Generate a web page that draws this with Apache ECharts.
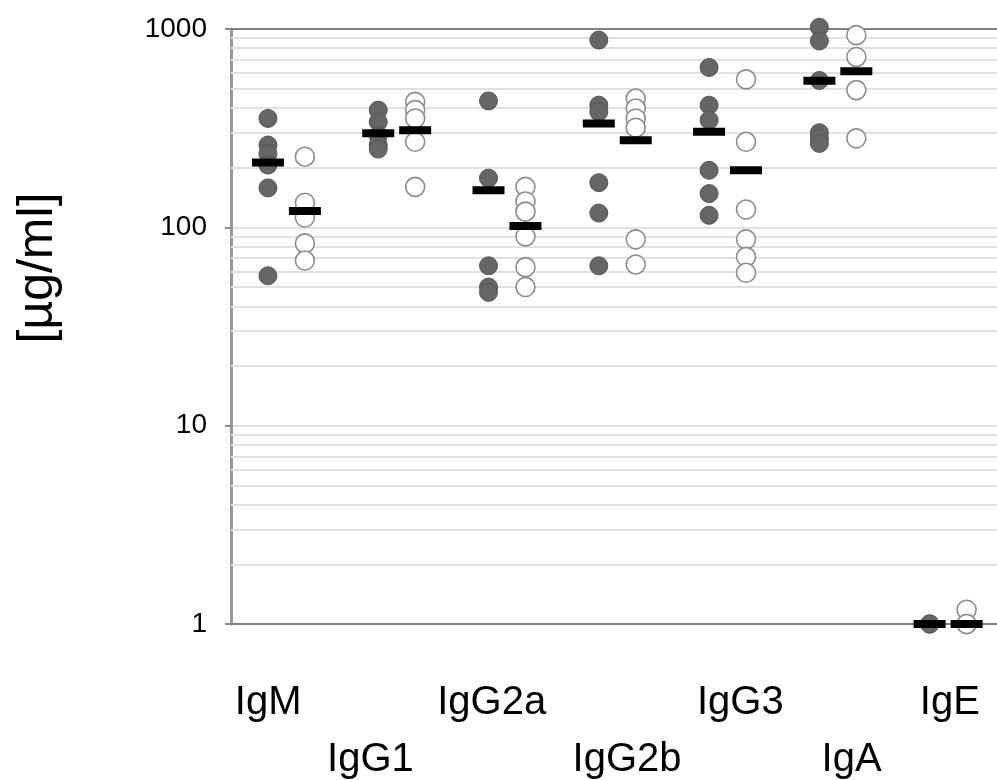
<!DOCTYPE html>
<html>
<head>
<meta charset="utf-8">
<title>Serum immunoglobulin levels</title>
<script src="https://cdn.jsdelivr.net/npm/echarts@6/dist/echarts.min.js"></script>
<style>
  html, body { margin: 0; padding: 0; background: #ffffff; }
  #chart { width: 997px; height: 780px; }
</style>
</head>
<body>
<div id="chart"></div>
<script>
// Immunoglobulin classes along the x axis
const categories = ['IgM', 'IgG1', 'IgG2a', 'IgG2b', 'IgG3', 'IgA', 'IgE'];

// Individual concentrations [µg/ml], first group (filled markers)
const filledValues = [
  [354, 260, 235, 206, 158, 57],
  [390, 340, 290, 260, 248],
  [434, 177, 64, 50, 47],
  [879, 413, 382, 168, 118, 64],
  [640, 413, 347, 194, 148, 115],
  [1020, 870, 550, 300, 280, 265],
  [1, 1, 1]
];

// Individual concentrations [µg/ml], second group (open markers)
const openValues = [
  [227, 133, 112, 83, 68],
  [429, 390, 354, 270, 160],
  [160, 135, 120, 90, 63, 50],
  [446, 397, 354, 318, 87, 65],
  [557, 270, 123, 87, 71, 59],
  [931, 723, 492, 281],
  [1.18, 1, 1]
];

// Group means [µg/ml], shown as black bars
const filledMeans = [212, 298, 154, 334, 303, 548, 1];
const openMeans = [121, 309, 101.5, 275, 194, 612, 1];

// Log axis range and the light minor grid lines inside each decade
const yMin = 1;
const yMax = 1000;
const minorGridValues = [2, 3, 4, 5, 6, 7, 8, 9,
                         20, 30, 40, 50, 60, 70, 80, 90,
                         200, 300, 400, 500, 600, 700, 800, 900];

// ---- layout ----
const FONT = "'Liberation Sans', Arial, sans-serif";
const FILLED_OFFSET = 0.335;   // position of filled column inside a class slot
const OPEN_OFFSET = 0.67;      // position of open column inside a class slot
// horizontal nudges of the class names (px), they sit slightly off the slot centres
const labelNudge = [-18, -26, -15, 10, 13, 14, 2];

function points(groups, offset) {
  const out = [];
  groups.forEach(function (vals, i) {
    vals.forEach(function (v) { out.push([i + offset, v]); });
  });
  return out;
}
function meanPoints(means, offset) {
  return means.map(function (v, i) { return [i + offset, v]; });
}

const rich = {};
categories.forEach(function (c, i) {
  const n = labelNudge[i];
  rich['c' + i] = {
    fontFamily: FONT, fontSize: 40, color: '#000', lineHeight: 57,
    padding: n >= 0 ? [0, 0, 0, 2 * n] : [0, -2 * n, 0, 0]
  };
});

const chart = echarts.init(document.getElementById('chart'), null, { renderer: 'canvas' });

chart.setOption({
  animation: false,
  backgroundColor: '#ffffff',
  grid: {
    left: 231, top: 29, width: 772, height: 595,
    containLabel: false,
    outerBoundsMode: 'none'
  },
  xAxis: [
    {
      type: 'category',
      position: 'bottom',
      data: categories,
      boundaryGap: true,
      axisLine: { show: true, lineStyle: { color: '#808080', width: 2 } },
      axisTick: { show: false },
      splitLine: { show: false },
      axisLabel: {
        interval: 0,
        margin: 50,
        lineHeight: 57,
        fontFamily: FONT,
        fontSize: 40,
        color: '#000',
        formatter: function (name, i) {
          return (i % 2 ? '\n' : '') + '{c' + i + '|' + name + '}';
        },
        rich: rich
      }
    },
    {
      type: 'value',
      position: 'top',
      min: 0,
      max: categories.length,
      axisLine: { show: true, onZero: false, lineStyle: { color: '#808080', width: 2 } },
      axisTick: { show: false },
      axisLabel: { show: false },
      splitLine: { show: false }
    }
  ],
  yAxis: {
    type: 'log',
    logBase: 10,
    min: yMin,
    max: yMax,
    axisLine: { show: true, lineStyle: { color: '#979797', width: 3 } },
    axisTick: { show: true, length: 6, lineStyle: { color: '#8a8a8a', width: 2 } },
    axisLabel: {
      margin: 24,
      fontFamily: FONT,
      fontSize: 28,
      color: '#000',
      formatter: function (v) { return String(Math.round(v)); }
    },
    splitLine: { show: true, lineStyle: { color: '#e1e1e1', width: 2 } },
    minorTick: { show: false },
    minorSplitLine: { show: false }
  },
  graphic: [
    {
      type: 'text',
      x: 38,
      y: 268,
      rotation: Math.PI / 2,
      style: {
        text: '[µg/ml]',
        fontFamily: FONT,
        fontSize: 50,
        fill: '#000',
        textAlign: 'center',
        textVerticalAlign: 'middle'
      }
    }
  ],
  series: [
    {
      name: 'grid',
      type: 'scatter',
      xAxisIndex: 1,
      data: [],
      z: 1,
      silent: true,
      markLine: {
        z: 1,
        silent: true,
        symbol: 'none',
        label: { show: false },
        lineStyle: { color: '#e1e1e1', width: 2, type: 'solid' },
        emphasis: { disabled: true },
        data: minorGridValues.map(function (v) { return { yAxis: v }; })
      }
    },
    {
      name: 'filled',
      type: 'scatter',
      xAxisIndex: 1,
      clip: false,
      z: 3,
      symbol: 'circle',
      symbolSize: 18,
      itemStyle: { color: '#666666', borderColor: '#555555', borderWidth: 1, opacity: 1 },
      data: points(filledValues, FILLED_OFFSET)
    },
    {
      name: 'open',
      type: 'scatter',
      xAxisIndex: 1,
      clip: false,
      z: 3,
      symbol: 'circle',
      symbolSize: 19,
      itemStyle: { color: '#ffffff', borderColor: '#8c8c8c', borderWidth: 1.6, opacity: 1 },
      data: points(openValues, OPEN_OFFSET)
    },
    {
      name: 'filled mean',
      type: 'scatter',
      xAxisIndex: 1,
      clip: false,
      z: 5,
      symbol: 'rect',
      symbolSize: [32, 8],
      itemStyle: { color: '#000000', opacity: 1 },
      data: meanPoints(filledMeans, FILLED_OFFSET)
    },
    {
      name: 'open mean',
      type: 'scatter',
      xAxisIndex: 1,
      clip: false,
      z: 5,
      symbol: 'rect',
      symbolSize: [32, 8],
      itemStyle: { color: '#000000', opacity: 1 },
      data: meanPoints(openMeans, OPEN_OFFSET)
    }
  ]
});
</script>
</body>
</html>
